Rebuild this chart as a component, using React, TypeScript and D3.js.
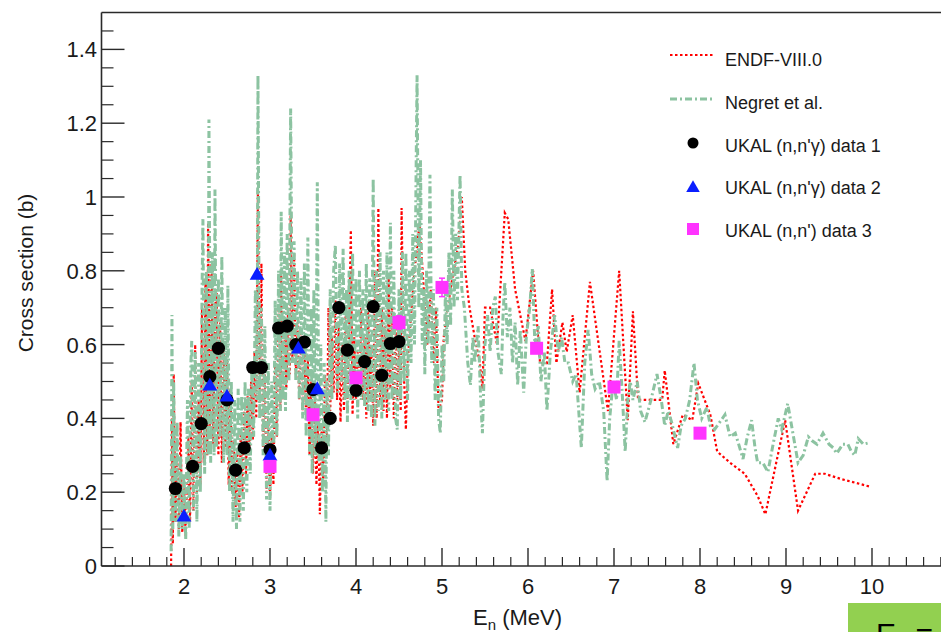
import React from "react";
import * as d3 from "d3";

// ---------- DATA ----------
const endfPoints: [number, number][] = [
  [1.85,0],[1.86,0.40],[1.87,0.06],[1.88,0.52],[1.90,0.12],[1.92,0.30],[1.94,0.10],[1.96,0.39],[1.98,0.09],[2.00,0.22],[2.02,0.08],[2.05,0.35],[2.07,0.12],[2.09,0.50],[2.11,0.15],[2.13,0.60],[2.15,0.20],[2.17,0.45],[2.19,0.22],[2.21,0.70],[2.23,0.28],[2.25,0.78],[2.27,0.30],[2.28,0.93],[2.30,0.38],[2.32,0.82],[2.34,0.33],[2.36,0.70],[2.38,0.74],[2.40,0.30],[2.42,0.66],[2.44,0.28],[2.46,0.60],[2.48,0.32],[2.50,0.56],[2.52,0.22],[2.54,0.48],[2.56,0.20],[2.58,0.34],[2.60,0.16],[2.62,0.32],[2.64,0.13],[2.66,0.36],[2.68,0.20],[2.70,0.42],[2.72,0.24],[2.74,0.46],[2.76,0.30],[2.78,0.50],[2.80,0.34],[2.82,0.58],[2.84,0.40],[2.86,1.02],[2.88,0.45],[2.90,0.82],[2.92,0.32],[2.94,0.52],[2.96,0.20],[2.98,0.40],[3.00,0.18],[3.02,0.36],[3.04,0.22],[3.06,0.55],[3.08,0.35],[3.10,0.70],[3.12,0.42],[3.13,0.79],[3.15,0.45],[3.17,0.62],[3.19,0.48],[3.21,0.70],[3.23,0.52],[3.24,0.95],[3.26,0.55],[3.28,0.85],[3.30,0.52],[3.32,0.66],[3.34,0.45],[3.36,0.63],[3.38,0.42],[3.40,0.60],[3.42,0.40],[3.44,0.56],[3.46,0.30],[3.48,0.50],[3.50,0.25],[3.52,0.45],[3.54,0.22],[3.56,0.40],[3.58,0.14],[3.60,0.38],[3.62,0.22],[3.64,0.52],[3.66,0.30],[3.68,0.70],[3.70,0.42],[3.72,0.62],[3.74,0.47],[3.76,0.72],[3.78,0.45],[3.80,0.66],[3.82,0.39],[3.84,0.60],[3.86,0.42],[3.88,0.70],[3.90,0.45],[3.92,0.65],[3.94,0.91],[3.96,0.41],[3.98,0.62],[4.00,0.45],[4.02,0.58],[4.04,0.50],[4.06,0.70],[4.08,0.45],[4.10,0.62],[4.12,0.40],[4.14,0.72],[4.16,0.45],[4.18,0.60],[4.20,0.38],[4.22,0.80],[4.24,0.40],[4.26,0.97],[4.28,0.45],[4.30,0.70],[4.32,0.42],[4.34,0.65],[4.36,0.40],[4.38,0.78],[4.40,0.48],[4.42,0.70],[4.44,0.40],[4.46,0.65],[4.48,0.45],[4.50,0.60],[4.52,0.42],[4.53,0.97],[4.56,0.50],[4.58,0.37],[4.60,0.55],[4.63,0.65],[4.68,0.80],[4.74,0.93],[4.78,0.78],[4.83,0.60],[4.87,0.75],[4.90,0.55],[4.93,0.70],[4.96,0.42],[5.00,0.45],[5.02,0.62],[5.06,0.69],[5.12,0.78],[5.19,0.87],[5.23,1.00],[5.27,0.80],[5.32,0.70],[5.38,0.62],[5.44,0.55],[5.47,0.48],[5.50,0.70],[5.56,0.70],[5.64,0.60],[5.73,0.957],[5.77,0.94],[5.85,0.75],[5.97,0.61],[6.06,0.80],[6.14,0.55],[6.22,0.55],[6.28,0.75],[6.33,0.55],[6.40,0.66],[6.45,0.58],[6.52,0.68],[6.60,0.47],[6.72,0.77],[6.93,0.42],[7.06,0.80],[7.16,0.395],[7.22,0.69],[7.28,0.45],[7.56,0.45],[7.59,0.53],[7.69,0.33],[7.80,0.41],[7.91,0.395],[7.98,0.495],[8.12,0.41],[8.20,0.31],[8.35,0.28],[8.52,0.25],[8.67,0.19],[8.76,0.14],[8.99,0.395],[9.14,0.15],[9.34,0.25],[9.45,0.25],[9.65,0.235],[9.98,0.215]
];

const negretPoints: [number, number][] = [
  [1.85,0.04],[1.86,0.68],[1.87,0.10],[1.88,0.50],[1.90,0.12],[1.92,0.39],[1.94,0.08],[1.96,0.30],[1.98,0.10],[2.00,0.25],[2.02,0.07],[2.04,0.45],[2.06,0.10],[2.08,0.55],[2.09,0.61],[2.11,0.15],[2.13,0.58],[2.15,0.12],[2.17,0.55],[2.19,0.20],[2.21,0.75],[2.22,0.94],[2.24,0.25],[2.26,0.80],[2.28,0.30],[2.29,1.21],[2.31,0.28],[2.33,0.85],[2.35,0.30],[2.36,1.02],[2.38,0.32],[2.40,0.78],[2.42,0.35],[2.44,0.84],[2.46,0.28],[2.48,0.70],[2.50,0.30],[2.51,0.76],[2.53,0.20],[2.55,0.50],[2.57,0.12],[2.59,0.45],[2.61,0.10],[2.63,0.48],[2.65,0.12],[2.67,0.46],[2.69,0.15],[2.71,0.50],[2.73,0.20],[2.75,0.48],[2.77,0.25],[2.79,0.55],[2.81,0.35],[2.83,0.75],[2.85,0.45],[2.86,1.33],[2.88,0.40],[2.90,0.70],[2.92,0.30],[2.94,0.65],[2.96,0.18],[2.98,0.55],[3.00,0.15],[3.02,0.50],[3.04,0.25],[3.06,0.72],[3.08,0.35],[3.10,0.80],[3.12,0.42],[3.13,0.96],[3.15,0.45],[3.17,0.85],[3.18,0.42],[3.20,0.90],[3.22,0.50],[3.24,1.24],[3.26,0.55],[3.28,0.88],[3.30,0.50],[3.32,0.80],[3.34,0.45],[3.36,0.78],[3.38,0.40],[3.40,0.82],[3.42,0.35],[3.44,0.89],[3.46,0.30],[3.48,0.70],[3.49,0.25],[3.51,0.75],[3.53,0.30],[3.55,1.04],[3.57,0.28],[3.59,0.60],[3.61,0.20],[3.63,0.55],[3.65,0.12],[3.66,0.50],[3.68,0.30],[3.70,0.75],[3.72,0.45],[3.74,0.80],[3.76,0.87],[3.78,0.50],[3.79,0.47],[3.81,0.82],[3.83,0.50],[3.85,0.86],[3.87,0.45],[3.89,0.75],[3.90,0.39],[3.92,0.80],[3.94,0.45],[3.96,0.85],[3.98,0.45],[4.00,0.78],[4.02,0.40],[4.04,0.80],[4.06,0.45],[4.08,0.75],[4.10,0.43],[4.12,0.82],[4.14,0.42],[4.16,0.78],[4.18,0.40],[4.20,1.05],[4.22,0.38],[4.24,0.80],[4.26,0.42],[4.28,0.85],[4.30,0.40],[4.32,0.80],[4.34,0.45],[4.36,0.85],[4.38,0.42],[4.40,0.93],[4.42,0.45],[4.44,0.80],[4.46,0.40],[4.48,0.37],[4.50,0.75],[4.52,0.45],[4.54,0.85],[4.56,0.50],[4.58,0.85],[4.60,0.45],[4.62,0.80],[4.64,0.55],[4.66,0.90],[4.68,0.60],[4.70,1.10],[4.71,1.33],[4.73,0.70],[4.75,1.10],[4.77,0.60],[4.79,0.75],[4.80,0.52],[4.82,0.80],[4.84,0.60],[4.86,1.06],[4.88,0.55],[4.90,0.75],[4.92,0.45],[4.94,0.70],[4.96,0.40],[4.98,0.36],[5.00,0.60],[5.02,0.50],[5.04,0.75],[5.06,0.60],[5.08,0.85],[5.10,0.65],[5.12,1.02],[5.14,0.70],[5.16,0.90],[5.18,0.72],[5.21,1.06],[5.23,0.75],[5.26,0.70],[5.30,0.55],[5.33,0.49],[5.36,0.62],[5.38,0.55],[5.42,0.65],[5.45,0.45],[5.47,0.36],[5.50,0.60],[5.53,0.68],[5.56,0.58],[5.59,0.70],[5.62,0.73],[5.65,0.58],[5.69,0.52],[5.71,0.68],[5.73,0.77],[5.76,0.62],[5.79,0.70],[5.82,0.55],[5.85,0.66],[5.88,0.49],[5.91,0.64],[5.95,0.47],[5.98,0.62],[6.02,0.70],[6.05,0.805],[6.08,0.60],[6.12,0.65],[6.15,0.50],[6.19,0.58],[6.22,0.42],[6.26,0.58],[6.31,0.68],[6.35,0.58],[6.39,0.62],[6.43,0.55],[6.47,0.55],[6.52,0.50],[6.56,0.52],[6.62,0.32],[6.66,0.55],[6.70,0.64],[6.74,0.52],[6.78,0.48],[6.83,0.50],[6.88,0.42],[6.92,0.23],[6.95,0.40],[6.99,0.50],[7.03,0.45],[7.06,0.61],[7.10,0.45],[7.13,0.31],[7.16,0.45],[7.19,0.50],[7.22,0.45],[7.27,0.50],[7.31,0.42],[7.36,0.39],[7.43,0.45],[7.50,0.52],[7.55,0.45],[7.59,0.38],[7.63,0.42],[7.67,0.39],[7.70,0.36],[7.74,0.32],[7.78,0.38],[7.83,0.40],[7.88,0.45],[7.93,0.55],[7.97,0.45],[8.02,0.40],[8.08,0.43],[8.12,0.38],[8.17,0.37],[8.23,0.39],[8.29,0.41],[8.35,0.35],[8.41,0.36],[8.45,0.33],[8.50,0.29],[8.55,0.35],[8.60,0.395],[8.64,0.32],[8.67,0.28],[8.73,0.28],[8.79,0.255],[8.85,0.33],[8.91,0.40],[8.95,0.37],[9.02,0.44],[9.08,0.36],[9.14,0.28],[9.20,0.30],[9.26,0.35],[9.30,0.34],[9.36,0.33],[9.43,0.36],[9.50,0.33],[9.55,0.32],[9.59,0.305],[9.66,0.33],[9.72,0.33],[9.76,0.31],[9.80,0.30],[9.84,0.345],[9.90,0.33],[9.98,0.335]
];

const ukal1E = [1.9,2.1,2.2,2.3,2.4,2.5,2.6,2.7,2.8,2.9,3.0,3.1,3.2,3.3,3.4,3.5,3.6,3.7,3.8,3.9,4.0,4.1,4.2,4.3,4.4,4.5];
const ukal1XS = [0.21,0.27,0.386,0.513,0.59,0.45,0.26,0.32,0.538,0.538,0.315,0.645,0.65,0.60,0.607,0.478,0.32,0.40,0.70,0.585,0.476,0.554,0.703,0.517,0.603,0.608];

const ukal2E = [2.0,2.3,2.5,2.85,3.0,3.33,3.55];
const ukal2XS = [0.135,0.49,0.46,0.79,0.30,0.59,0.48];

const ukal3E = [3.0,3.5,4.0,4.5,5.0,6.1,7.0,8.0];
const ukal3XS = [0.27,0.41,0.51,0.66,0.755,0.59,0.485,0.36];
const ukal3Err = [0.008,0.008,0.012,0.018,0.025,0.008,0.008,0.008];

const yMajor = [0, 0.2, 0.4, 0.6, 0.8, 1, 1.2, 1.4];
const xMajor = [2, 3, 4, 5, 6, 7, 8, 9, 10];

const legendLabels = [
  "ENDF-VIII.0",
  "Negret et al.",
  "UKAL (n,n'\u03b3) data 1",
  "UKAL (n,n'\u03b3) data 2",
  "UKAL (n,n') data 3",
];

// ---------- STYLE ----------
const W = 941, H = 632;
const FONT = "'Liberation Sans', Arial, Helvetica, sans-serif";
const RED = "#ff0000";
const GREEN = "#8cc3a1";
const BLUE = "#0a1eff";
const MAGENTA = "#ff33ff";
const AXIS = "#2a2a2a";

export default function App() {
  const x = d3.scaleLinear().domain([2, 10]).range([184, 872]);
  const y = d3.scaleLinear().domain([0, 1.5]).range([566, 12.5]);
  const left = 101.5, bottom = 566, top = 12.5;

  const line = d3.line<[number, number]>().x(d => x(d[0])).y(d => y(d[1]));

  const yMinor = d3.range(0, 1.5001, 0.05).filter(v => Math.abs(v / 0.2 - Math.round(v / 0.2)) > 1e-6 && v < 1.49);
  const xMinor = d3.range(1.2, 10.81, 0.2).filter(v => Math.abs(v - Math.round(v)) > 1e-6);

  const tri = d3.symbol().type(d3.symbolTriangle).size(95)();
  const triLeg = d3.symbol().type(d3.symbolTriangle).size(80)();

  return (
    <svg width={W} height={H} style={{ position: "absolute", left: 0, top: 0, background: "#fff" }} fontFamily={FONT}>
      <rect x={0} y={0} width={W} height={H} fill="#fff" />
      <defs>
        <clipPath id="plotclip">
          <rect x={left} y={top} width={W - left} height={bottom - top} />
        </clipPath>
      </defs>

      {/* curves: ENDF first, Negret drawn over it */}
      <g clipPath="url(#plotclip)">
        <path d={line(endfPoints) || ""} fill="none" stroke={RED} strokeWidth={2.2} strokeDasharray="2.5 2.5" />
        <path d={line(negretPoints) || ""} fill="none" stroke={GREEN} strokeWidth={3} strokeDasharray="7 3 2 3" strokeLinejoin="miter" />
      </g>

      {/* data 1 circles */}
      {ukal1E.map((e, i) => (
        <circle key={"c" + i} cx={x(e)} cy={y(ukal1XS[i])} r={6.6} fill="#000" />
      ))}
      {/* data 2 triangles */}
      {ukal2E.map((e, i) => (
        <path key={"t" + i} d={tri || ""} transform={`translate(${x(e)},${y(ukal2XS[i]) + 1})`} fill={BLUE} />
      ))}
      {/* data 3 squares with error bars */}
      {ukal3E.map((e, i) => {
        const cx = x(e), cy = y(ukal3XS[i]);
        const y1 = y(ukal3XS[i] + ukal3Err[i]), y2 = y(ukal3XS[i] - ukal3Err[i]);
        return (
          <g key={"s" + i}>
            <line x1={cx} x2={cx} y1={y1} y2={y2} stroke={MAGENTA} strokeWidth={1.5} />
            <line x1={cx - 3} x2={cx + 3} y1={y1} y2={y1} stroke={MAGENTA} strokeWidth={1.5} />
            <line x1={cx - 3} x2={cx + 3} y1={y2} y2={y2} stroke={MAGENTA} strokeWidth={1.5} />
            <rect x={cx - 6.5} y={cy - 6.5} width={13} height={13} fill={MAGENTA} />
          </g>
        );
      })}

      {/* frame */}
      <line x1={left} x2={W} y1={top} y2={top} stroke={AXIS} strokeWidth={1.6} />
      <line x1={left} x2={left} y1={top} y2={bottom} stroke={AXIS} strokeWidth={1.6} />
      <line x1={left} x2={W} y1={bottom} y2={bottom} stroke={AXIS} strokeWidth={1.6} />

      {/* y ticks */}
      {yMajor.map(v => (
        <g key={"ym" + v}>
          <line x1={left} x2={left + 23} y1={y(v)} y2={y(v)} stroke={AXIS} strokeWidth={1.4} />
          <text x={97} y={y(v) + 8} textAnchor="end" fontSize={22} fill="#1a1a1a">{String(v)}</text>
        </g>
      ))}
      {yMinor.map(v => (
        <line key={"yn" + v} x1={left} x2={left + 12} y1={y(v)} y2={y(v)} stroke={AXIS} strokeWidth={1.2} />
      ))}

      {/* x ticks */}
      {xMajor.map(v => (
        <g key={"xm" + v}>
          <line x1={x(v)} x2={x(v)} y1={bottom} y2={bottom - 18} stroke={AXIS} strokeWidth={1.4} />
          <text x={x(v)} y={594} textAnchor="middle" fontSize={22} fill="#1a1a1a">{String(v)}</text>
        </g>
      ))}
      {xMinor.map(v => (
        <line key={"xn" + v.toFixed(1)} x1={x(v)} x2={x(v)} y1={bottom} y2={bottom - 9} stroke={AXIS} strokeWidth={1.2} />
      ))}

      {/* axis titles */}
      <text transform="translate(33,273) rotate(-90)" textAnchor="middle" fontSize={21} fill="#1a1a1a">Cross section (b)</text>
      <text x={473} y={625} fontSize={22} fill="#1a1a1a">
        E<tspan fontSize={15} dy={5}>n</tspan><tspan dy={-5}> (MeV)</tspan>
      </text>

      {/* legend */}
      <line x1={670} x2={715} y1={55} y2={55} stroke={RED} strokeWidth={2.2} strokeDasharray="2.5 2.5" />
      <line x1={670} x2={715} y1={99} y2={99} stroke={GREEN} strokeWidth={3} strokeDasharray="7 3 2 3" />
      <circle cx={693} cy={143} r={5.5} fill="#000" />
      <path d={triLeg || ""} transform="translate(693,188)" fill={BLUE} />
      <rect x={687} y={223} width={12} height={12} fill={MAGENTA} />
      {legendLabels.map((t, i) => (
        <text key={t} x={725} y={66 + i * 42.8} fontSize={18} fill="#1a1a1a">{t}</text>
      ))}

      {/* partial overlay box at bottom right (cut by the picture's edge, as in the reference) */}
      <rect x={848} y={603} width={W - 848} height={H - 603} fill="#92d050" />
      <text x={876} y={644} fontSize={30} fill="#000">E<tspan fontSize={20} dy={6}>n</tspan><tspan dy={-6}> = </tspan></text>
    </svg>
  );
}
